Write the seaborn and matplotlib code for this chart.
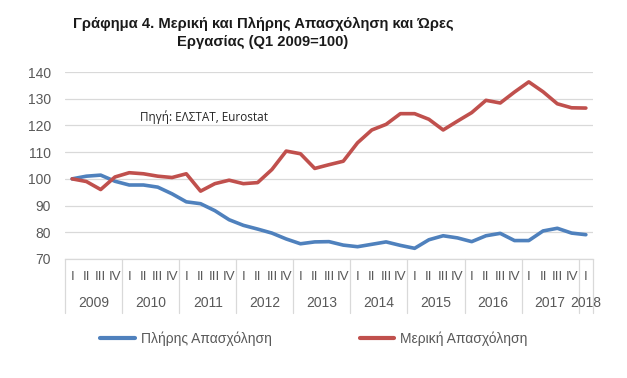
import matplotlib
matplotlib.use("Agg")
import matplotlib.pyplot as plt
import matplotlib.transforms as mtransforms
import seaborn as sns
import pandas as pd
import numpy as np

years = ["2009", "2010", "2011", "2012", "2013", "2014", "2015", "2016", "2017", "2018"]
quarter_labels = ["I", "II", "III", "IV"]
n_quarters = 37

full_time = [100.0, 101.0, 101.4, 99.1, 97.7, 97.7, 96.9, 94.4, 91.4, 90.7,
             88.1, 84.7, 82.6, 81.2, 79.7, 77.5, 75.7, 76.4, 76.5, 75.2,
             74.6, 75.5, 76.4, 75.1, 74.0, 77.2, 78.7, 77.9, 76.5, 78.7,
             79.6, 76.9, 76.9, 80.5, 81.5, 79.7, 79.1]
part_time = [100.0, 99.0, 96.0, 100.7, 102.3, 101.9, 101.0, 100.5, 101.9, 95.4,
             98.2, 99.5, 98.2, 98.6, 103.5, 110.4, 109.4, 103.9, 105.3, 106.6,
             113.5, 118.3, 120.4, 124.4, 124.4, 122.3, 118.3, 121.6, 124.8, 129.4,
             128.4, 132.5, 136.3, 132.6, 128.1, 126.6, 126.5]

name_full = "Πλήρης Απασχόληση"
name_part = "Μερική Απασχόληση"
title = "Γράφημα 4. Μερική και Πλήρης Απασχόληση και Ώρες\nΕργασίας (Q1 2009=100)"
source = "Πηγή: ΕΛΣΤΑΤ, Eurostat"

sns.set_theme(style="white")
plt.rcParams['font.family'] = ['Liberation Sans', 'DejaVu Sans']

df = pd.DataFrame({
    "t": list(range(n_quarters)) * 2,
    "value": full_time + part_time,
    "series": [name_full] * n_quarters + [name_part] * n_quarters,
})

W, H = 627, 378
fig = plt.figure(figsize=(W / 100, H / 100), dpi=100)
left, right, top, bottom = 65, 593, 72, 259
ax = fig.add_axes([left / W, 1 - bottom / H, (right - left) / W, (bottom - top) / H])

sns.lineplot(data=df, x="t", y="value", hue="series", ax=ax,
             palette={name_full: "#4F81BD", name_part: "#C0504D"},
             linewidth=2.6, legend=False)

ax.set_xlim(-0.5, n_quarters - 0.5)
ax.set_ylim(70, 140)
ax.set_yticks(range(70, 141, 10))
ax.yaxis.grid(True, color="#D9D9D9", linewidth=0.9)
ax.set_axisbelow(True)
for s in ["top", "right", "left"]:
    ax.spines[s].set_visible(False)
ax.spines["bottom"].set_color("#D9D9D9")
ax.spines["bottom"].set_linewidth(0.9)
ax.set_xticks([])
ax.set_xlabel("")
ax.set_ylabel("")
ax.tick_params(axis="y", length=0, pad=10, labelsize=10, labelcolor="#595959")

trans = mtransforms.blended_transform_factory(ax.transData, ax.transAxes)
ph = bottom - top
q_y = -(277 - bottom) / ph
y_y = -(303 - bottom) / ph
sep_y = -(313 - bottom) / ph

for i in range(n_quarters):
    ax.text(i, q_y, quarter_labels[i % 4], transform=trans, ha="center", va="center",
            fontsize=9.5, color="#595959")
for k, yr in enumerate(years):
    start = 4 * k
    end = min(4 * k + 3, n_quarters - 1)
    ax.text((start + end) / 2, y_y, yr, transform=trans, ha="center", va="center",
            fontsize=10, color="#595959")
seps = [-0.5 + 4 * k for k in range(10)] + [n_quarters - 0.5]
for sx in seps:
    ax.plot([sx, sx], [0, sep_y], transform=trans, color="#D9D9D9", linewidth=0.9,
            clip_on=False)

ax.text(140 / W, 1 - 117 / H, source, transform=fig.transFigure, ha="left", va="center",
        fontsize=8.5, color="#262626", family=["Open Sans", "DejaVu Sans"])

fig.text(263 / W, 1 - 33 / H, title, ha="center", va="center", fontsize=10.6,
         fontweight="bold", color="#1a1a1a", linespacing=1.4)

from matplotlib.lines import Line2D
handles = [Line2D([], [], color="#4F81BD", linewidth=3),
           Line2D([], [], color="#C0504D", linewidth=3)]
leg = fig.legend(handles, [name_full, name_part], loc="center",
                 bbox_to_anchor=(314 / W, 1 - 339 / H), ncol=2, frameon=False,
                 fontsize=10, handlelength=2.5, handletextpad=0.45, columnspacing=6.3,
                 labelcolor="#595959")

fig.savefig("out.png", dpi=100)
